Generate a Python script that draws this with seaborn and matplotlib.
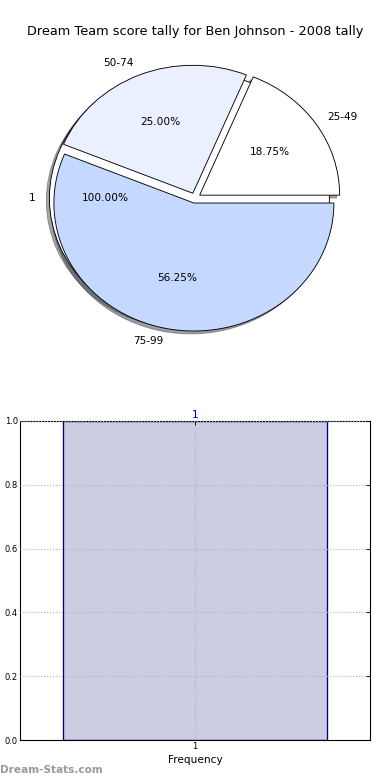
import matplotlib
matplotlib.use("Agg")
import matplotlib.pyplot as plt
import seaborn as sns
import pandas as pd

# ---- data ----
title_text = "Dream Team score tally for Ben Johnson - 2008 tally"
range_labels = ["25-49", "50-74", "75-99"]
range_counts = [3, 4, 9]
range_colors = ["#ffffff", "#eaf0ff", "#c5d8ff"]

base_labels = ["1"]
base_counts = [1]

freq_categories = ["1"]
freq_values = [1.0]
yticks = [0.0, 0.2, 0.4, 0.6, 0.8, 1.0]

sns.set_style("white")
plt.rcParams["font.family"] = ["DejaVu Sans"]
plt.rcParams["text.color"] = "black"
plt.rcParams["axes.labelcolor"] = "black"
plt.rcParams["xtick.color"] = "black"
plt.rcParams["ytick.color"] = "black"

fig = plt.figure(figsize=(390 / 80, 780 / 80), dpi=80)

# ---- pie ----
axp = fig.add_axes([20 / 390, 1 - 358 / 780, 350 / 390, 320 / 780])
axp.pie(base_counts, labels=base_labels, colors=["#ffffff"], explode=[0.04],
        autopct="%1.2f%%", pctdistance=0.6, labeldistance=1.1, shadow=True,
        startangle=0, wedgeprops=dict(edgecolor="black", linewidth=0.8),
        textprops=dict(fontsize=9.5, color="black"))
axp.pie(range_counts, labels=range_labels, colors=range_colors,
        explode=[0.04] * len(range_counts),
        autopct="%1.2f%%", pctdistance=0.6, labeldistance=1.1, shadow=True,
        startangle=0, wedgeprops=dict(edgecolor="black", linewidth=0.8),
        textprops=dict(fontsize=9.5, color="black"))
axp.set_aspect("auto")
axp.set_xlim(-1.25, 1.25)
axp.set_ylim(-1.25, 1.25)
axp.set_title(title_text, fontsize=11.6, pad=3, color="black")

# ---- bar ----
axb = fig.add_axes([20 / 390, 40 / 780, 350 / 390, 319 / 780])
df = pd.DataFrame({"cat": freq_categories, "val": freq_values})
sns.barplot(data=df, x="cat", y="val", ax=axb, color="#ccccE3", saturation=1,
            edgecolor="#000080", linewidth=1.2, width=0.8, zorder=1)
axb.set_xlim(-0.532, 0.532)
axb.set_ylim(0, 1.0)
axb.set_yticks(yticks)
axb.set_yticklabels([f"{v:.1f}" for v in yticks])
axb.grid(True, linestyle=":", color="#b0b0b0", linewidth=1)
axb.set_axisbelow(False)
for s in axb.spines.values():
    s.set_color("black")
    s.set_linewidth(1)
axb.tick_params(direction="in", right=True, top=True, length=4, labelsize=7.5,
                colors="black", pad=2)
axb.set_xlabel("Frequency", fontsize=9.5, labelpad=3, color="black")
axb.set_ylabel("")
axb.set_title(freq_categories[0], color="#0000bb", fontsize=9.5, pad=3)

fig.text(0.0, 1 - 770 / 780, "Dream-Stats.com", color="#999999", fontsize=9.5,
         fontweight="bold", ha="left", va="center")

fig.savefig("out.png", dpi=80)
